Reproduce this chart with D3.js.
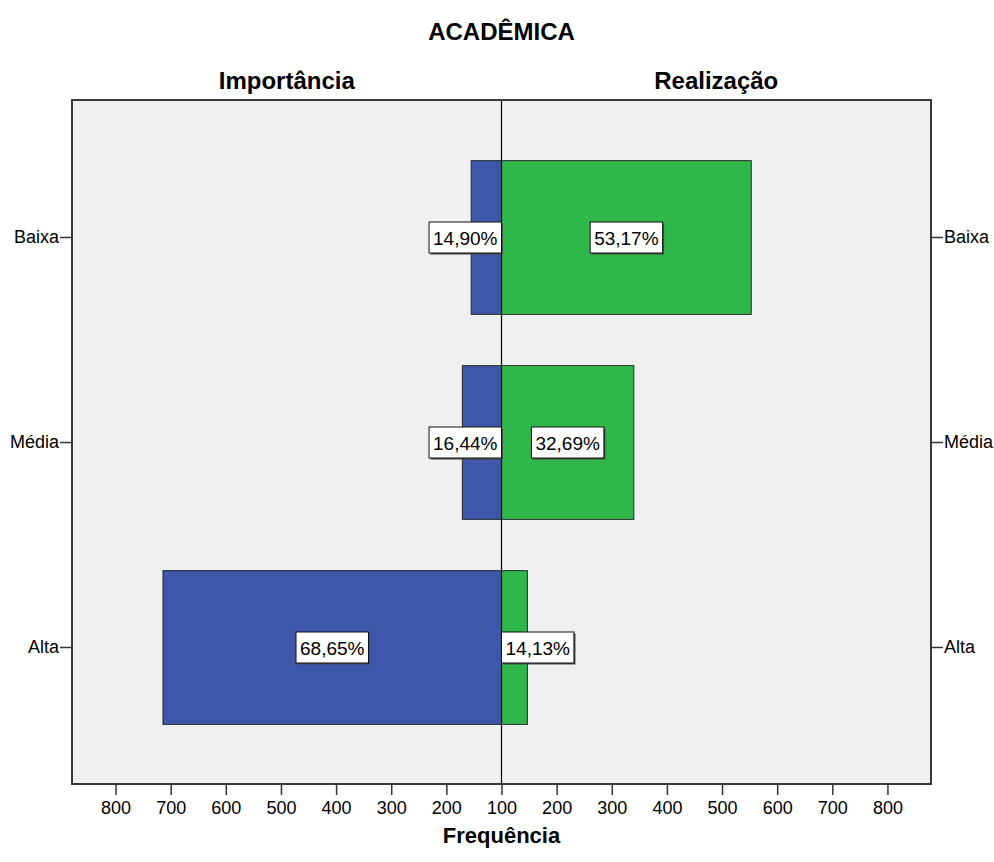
<!DOCTYPE html>
<html>
<head>
<meta charset="utf-8">
<script src="https://cdn.jsdelivr.net/npm/d3@7"></script>
<style>
  html, body { margin: 0; padding: 0; background: #ffffff; }
  svg { display: block; }
  text { font-family: "Liberation Sans", Arial, sans-serif; fill: #000; }
</style>
</head>
<body>
<svg id="chart" width="994" height="862"></svg>
<script>
// Frequencies per level, for each of the two measures
const categories = ["Baixa", "Média", "Alta"];
const importancia = [155, 171, 714];
const realizacao = [553, 340, 147];
const tickValues = [100, 200, 300, 400, 500, 600, 700, 800];

const titleText = "ACADÊMICA";
const leftHeader = "Importância";
const rightHeader = "Realização";
const xTitle = "Frequência";

const frame = { left: 72, right: 931, top: 100, bottom: 784 };
const cx = (frame.left + frame.right) / 2;
const blue = "#3d58ab", green = "#2fb74a";

const svg = d3.select("#chart");

// Two half-axes that both start at 100 in the middle
const xRight = d3.scaleLinear().domain([100, 879]).range([cx, frame.right]);
const xLeft = d3.scaleLinear().domain([100, 879]).range([cx, frame.left]);

const y = d3.scaleBand()
  .domain(categories)
  .range([135, 750])
  .paddingInner(0.25)
  .paddingOuter(0.125);

// Plot background
svg.append("rect")
  .attr("x", frame.left).attr("y", frame.top)
  .attr("width", frame.right - frame.left).attr("height", frame.bottom - frame.top)
  .attr("fill", "#f0f0f0");

// Bars
const totalImp = d3.sum(importancia);
const totalRea = d3.sum(realizacao);
const rows = categories.map((c, i) => ({ cat: c, imp: importancia[i], rea: realizacao[i] }));

const barG = svg.append("g");
barG.selectAll("rect.imp").data(rows).join("rect")
  .attr("class", "imp")
  .attr("x", d => xLeft(d.imp))
  .attr("y", d => y(d.cat))
  .attr("width", d => cx - xLeft(d.imp))
  .attr("height", y.bandwidth())
  .attr("fill", blue).attr("stroke", "#2a2a2a").attr("stroke-width", 1);

barG.selectAll("rect.rea").data(rows).join("rect")
  .attr("class", "rea")
  .attr("x", cx)
  .attr("y", d => y(d.cat))
  .attr("width", d => xRight(d.rea) - cx)
  .attr("height", y.bandwidth())
  .attr("fill", green).attr("stroke", "#2a2a2a").attr("stroke-width", 1);

// Centre line
svg.append("line")
  .attr("x1", cx).attr("x2", cx)
  .attr("y1", frame.top).attr("y2", frame.bottom)
  .attr("stroke", "#000").attr("stroke-width", 1.2);

// Frame border
svg.append("rect")
  .attr("x", frame.left).attr("y", frame.top)
  .attr("width", frame.right - frame.left).attr("height", frame.bottom - frame.top)
  .attr("fill", "none").attr("stroke", "#3a3a3a").attr("stroke-width", 2);

// Percentage labels in boxes
const pct = (v, t) => (v / t * 100).toFixed(2).replace(".", ",") + "%";
const labelG = svg.append("g");
function drawLabel(text, barStart, barEnd, side, yc) {
  const g = labelG.append("g");
  const t = g.append("text").text(text)
    .attr("font-size", 19)
    .attr("dominant-baseline", "central")
    .attr("text-anchor", "middle");
  const tw = t.node().getComputedTextLength();
  const bw = tw + 8, bh = 31;
  const barW = Math.abs(barEnd - barStart);
  let bx;
  if (bw < barW) {
    bx = (barStart + barEnd) / 2 - bw / 2;
  } else {
    bx = side < 0 ? cx - bw : cx;
  }
  const by = yc - bh / 2;
  g.insert("rect", "text")
    .attr("x", bx + 1.5).attr("y", by + 1.5).attr("width", bw).attr("height", bh)
    .attr("fill", "#4a4a4a");
  g.insert("rect", "text")
    .attr("x", bx).attr("y", by).attr("width", bw).attr("height", bh)
    .attr("fill", "#ffffff").attr("stroke", "#111").attr("stroke-width", 1);
  t.attr("x", bx + bw / 2).attr("y", yc + 1);
}
rows.forEach(d => {
  const yc = y(d.cat) + y.bandwidth() / 2;
  drawLabel(pct(d.imp, totalImp), xLeft(d.imp), cx, -1, yc);
  drawLabel(pct(d.rea, totalRea), cx, xRight(d.rea), 1, yc);
});

// Bottom axes
function styleAxis(g) {
  g.select(".domain").remove();
  g.selectAll(".tick line").attr("stroke", "#333").attr("stroke-width", 1.5);
  g.selectAll(".tick text").attr("font-size", 18).attr("dy", "0.95em")
    .style("font-family", '"Liberation Sans", Arial, sans-serif').attr("fill", "#000");
}
svg.append("g")
  .attr("transform", `translate(0,${frame.bottom})`)
  .call(d3.axisBottom(xLeft).tickValues(tickValues.slice(1)).tickSize(11).tickPadding(2).tickFormat(d3.format("d")))
  .call(styleAxis);
svg.append("g")
  .attr("transform", `translate(0,${frame.bottom})`)
  .call(d3.axisBottom(xRight).tickValues(tickValues).tickSize(11).tickPadding(2).tickFormat(d3.format("d")))
  .call(styleAxis);

// Category axes on both sides
const leftAxis = svg.append("g")
  .attr("transform", `translate(${frame.left},0)`)
  .call(d3.axisLeft(y).tickSize(12).tickPadding(1));
const rightAxis = svg.append("g")
  .attr("transform", `translate(${frame.right},0)`)
  .call(d3.axisRight(y).tickSize(12).tickPadding(1));
[leftAxis, rightAxis].forEach(g => {
  g.select(".domain").remove();
  g.selectAll(".tick line").attr("stroke", "#333").attr("stroke-width", 1.5);
  g.selectAll(".tick text").attr("font-size", 18)
    .style("font-family", '"Liberation Sans", Arial, sans-serif').attr("fill", "#000");
});

// Titles
svg.append("text").attr("x", cx).attr("y", 40)
  .attr("text-anchor", "middle").attr("font-size", 24).attr("font-weight", "bold")
  .text(titleText);
svg.append("text").attr("x", (frame.left + cx) / 2).attr("y", 89)
  .attr("text-anchor", "middle").attr("font-size", 24).attr("font-weight", "bold")
  .text(leftHeader);
svg.append("text").attr("x", (cx + frame.right) / 2).attr("y", 89)
  .attr("text-anchor", "middle").attr("font-size", 24).attr("font-weight", "bold")
  .text(rightHeader);
svg.append("text").attr("x", cx).attr("y", 843)
  .attr("text-anchor", "middle").attr("font-size", 22).attr("font-weight", "bold")
  .text(xTitle);
</script>
</body>
</html>
